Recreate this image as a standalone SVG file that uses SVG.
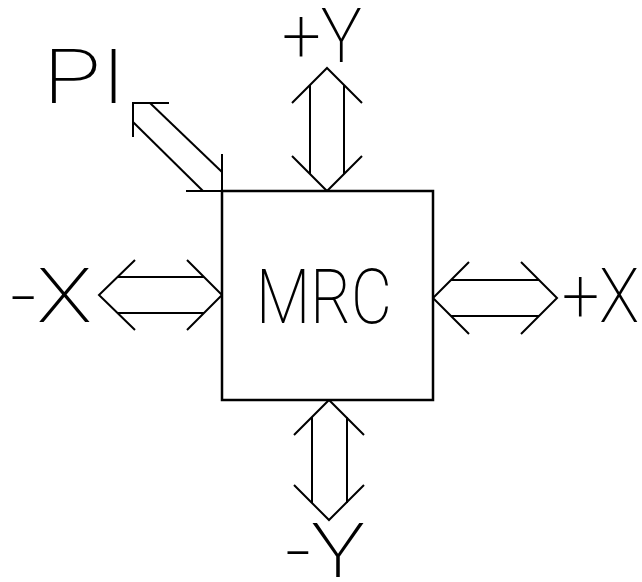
<svg xmlns="http://www.w3.org/2000/svg" width="642" height="582" viewBox="0 0 642 582">
<style>
.ln{fill:none;stroke:#000;stroke-width:2;stroke-linejoin:miter}
.bx{fill:#fff;stroke:#000;stroke-width:2.5}
.t{font-family:Roboto,"DejaVu Sans",sans-serif;font-weight:200;font-size:76px;fill:#000}
</style>
<rect width="642" height="582" fill="#fff"/>
<g id="connectors">
  <g id="arrow-pi">
    <polyline class="ln" points="169,103 133,103 133,137"/>
    <line class="ln" x1="150" y1="103" x2="222" y2="172"/>
    <line class="ln" x1="133" y1="122" x2="203" y2="191"/>
    <line class="ln" x1="222" y1="154" x2="222" y2="191"/>
    <line class="ln" x1="186" y1="191" x2="222" y2="191"/>
  </g>
  <g id="arrow-py">
    <polyline class="ln" points="292,103 327,68 362,103"/>
    <polyline class="ln" points="292,156 327,191 362,156"/>
    <line class="ln" x1="310" y1="85" x2="310" y2="174"/>
    <line class="ln" x1="344" y1="85" x2="344" y2="174"/>
  </g>
  <g id="arrow-my">
    <polyline class="ln" points="294,435 329,400 364,435"/>
    <polyline class="ln" points="294,485 329,520 364,485"/>
    <line class="ln" x1="312" y1="417" x2="312" y2="503"/>
    <line class="ln" x1="347" y1="417" x2="347" y2="503"/>
  </g>
  <g id="arrow-mx">
    <polyline class="ln" points="135,260 99,295 135,330"/>
    <polyline class="ln" points="187,260 222,295 187,330"/>
    <line class="ln" x1="117" y1="277" x2="204" y2="277"/>
    <line class="ln" x1="117" y1="313" x2="204" y2="313"/>
  </g>
  <g id="arrow-px">
    <polyline class="ln" points="469,262 433,298 469,334"/>
    <polyline class="ln" points="521,262 557,298 521,334"/>
    <line class="ln" x1="451" y1="280" x2="539" y2="280"/>
    <line class="ln" x1="451" y1="316" x2="539" y2="316"/>
  </g>
</g>
<g id="mrc">
  <rect class="bx" x="222" y="191" width="211" height="209"/>
  <text class="t" x="256" y="323" textLength="136" lengthAdjust="spacingAndGlyphs">MRC</text>
</g>
<g id="label-pi"><text class="t" x="43" y="103" textLength="83" lengthAdjust="spacingAndGlyphs">PI</text></g>
<g id="label-py"><text class="t" x="282" y="62" font-size="70" textLength="80" lengthAdjust="spacingAndGlyphs">+Y</text></g>
<g id="label-my"><text class="t" x="285" y="577" font-size="70" textLength="80" lengthAdjust="spacingAndGlyphs">-Y</text></g>
<g id="label-mx"><text class="t" x="10" y="322" textLength="82" lengthAdjust="spacingAndGlyphs">-X</text></g>
<g id="label-px"><text class="t" x="562" y="322" font-size="72" textLength="77" lengthAdjust="spacingAndGlyphs">+X</text></g>
</svg>
